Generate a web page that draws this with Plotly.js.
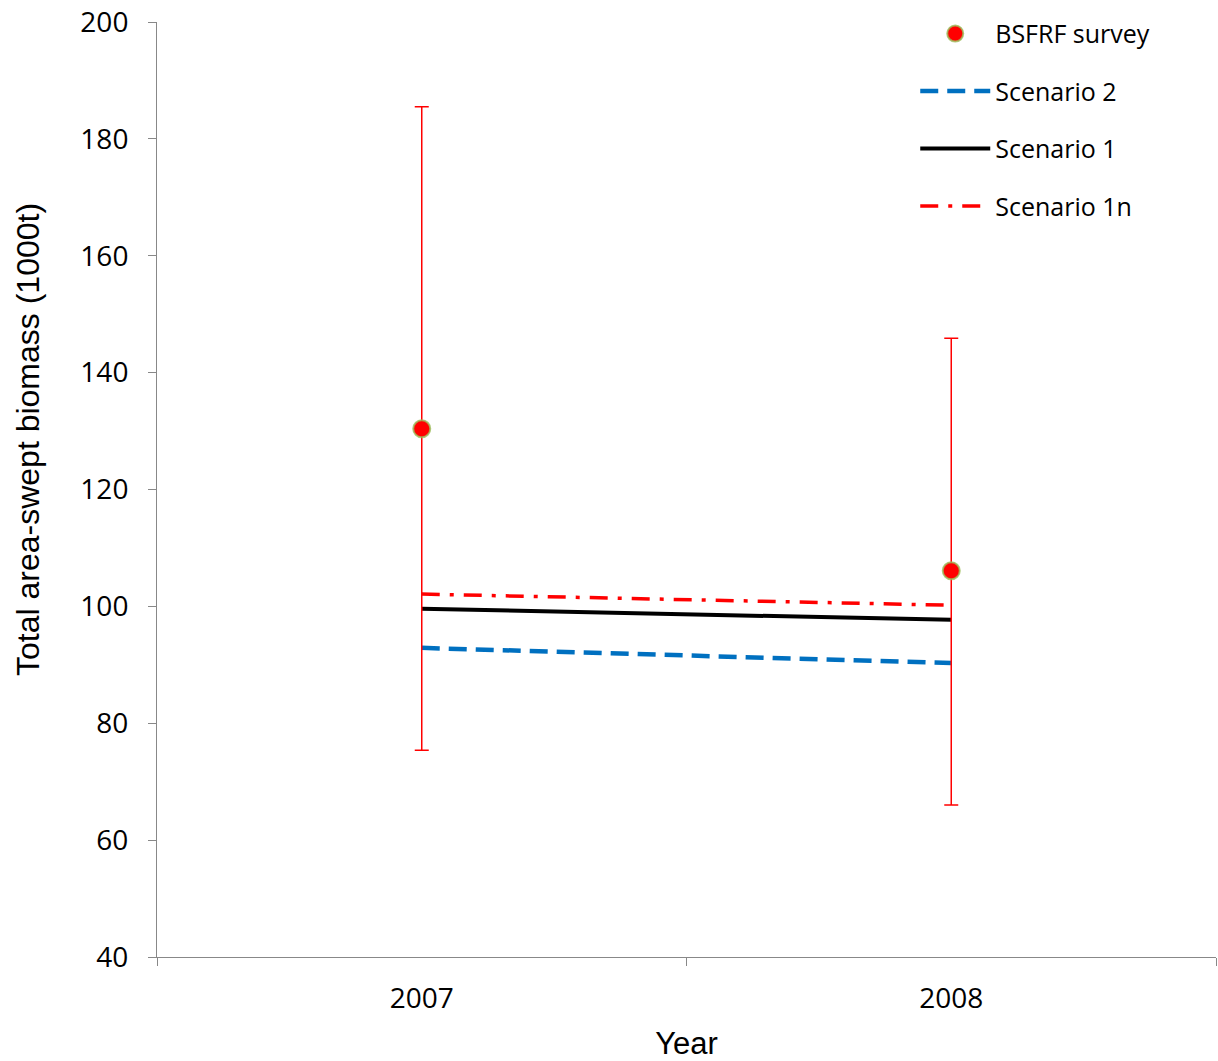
<!DOCTYPE html>
<html>
<head>
<meta charset="utf-8">
<script src="https://cdn.plot.ly/plotly-3.0.1.min.js"></script>
<style>html,body{margin:0;padding:0;background:#fff;}#chart{width:1218px;height:1061px;}</style>
</head>
<body>
<div id="chart"></div>
<script>
const years = ["2007", "2008"];
const surveyBiomass = [130.4, 106.1];
const surveyUpper = [185.5, 145.9];
const surveyLower = [75.4, 66.0];
const scenario2 = [92.9, 90.3];
const scenario1 = [99.6, 97.7];
const scenario1n = [102.1, 100.2];

const errPlus = surveyBiomass.map((v, i) => surveyUpper[i] - v);
const errMinus = surveyBiomass.map((v, i) => v - surveyLower[i]);

const traces = [
  {
    x: years, y: scenario2, name: "Scenario 2", type: "scatter", mode: "lines",
    line: {color: "#0070C0", width: 4.5, dash: "18px,9px"},
    legendrank: 2, legendgroup: "b"
  },
  {
    x: years, y: scenario1, name: "Scenario 1", type: "scatter", mode: "lines",
    line: {color: "#000000", width: 4},
    legendrank: 3, legendgroup: "c"
  },
  {
    x: years, y: scenario1n, name: "Scenario 1n", type: "scatter", mode: "lines",
    line: {color: "#FF0000", width: 3.5, dash: "18px,10px,4px,10px"},
    legendrank: 4, legendgroup: "d"
  },
  {
    x: years, y: surveyBiomass, name: "BSFRF survey", type: "scatter", mode: "markers",
    marker: {color: "#FF0000", size: 17, line: {color: "rgba(155,187,89,0.8)", width: 2}},
    error_y: {type: "data", symmetric: false, array: errPlus, arrayminus: errMinus,
      color: "#FF0000", thickness: 1.5, width: 7},
    legendrank: 1, legendgroup: "a"
  }
];

const layout = {
  width: 1218, height: 1061,
  margin: {l: 157, r: 2, t: 22, b: 104},
  paper_bgcolor: "#fff", plot_bgcolor: "#fff",
  showlegend: true,
  legend: {
    x: 0.716, y: 1.012, xanchor: "left", yanchor: "top",
    font: {family: "'Open Sans', sans-serif", size: 25, color: "#000"},
    itemwidth: 70, tracegroupgap: 22, traceorder: "grouped",
    bgcolor: "rgba(0,0,0,0)"
  },
  xaxis: {
    type: "category", range: [-0.5, 1.5],
    tickson: "boundaries", ticks: "outside", ticklen: 8, tickcolor: "#888",
    showline: true, linecolor: "#888", linewidth: 1,
    showgrid: false, zeroline: false, ticklabelstandoff: 16,
    tickfont: {family: "'Open Sans', sans-serif", size: 28, color: "#000"},
    title: {text: "Year", font: {family: "'Liberation Sans', Arial, sans-serif", size: 31, color: "#000"}, standoff: 17}
  },
  yaxis: {
    range: [40, 200], dtick: 20, tick0: 40,
    ticks: "outside", ticklen: 8, tickcolor: "#888",
    showline: true, linecolor: "#888", linewidth: 1,
    showgrid: false, zeroline: false, ticklabelstandoff: 14,
    tickfont: {family: "'Open Sans', sans-serif", size: 28, color: "#000"}
  },
  annotations: [{
    text: "Total area-swept biomass (1000t)",
    xref: "paper", yref: "paper",
    x: -129 / 1059, y: (957 - 440) / 935,
    xanchor: "center", yanchor: "middle",
    textangle: -90, showarrow: false,
    font: {family: "'Liberation Sans', Arial, sans-serif", size: 32, color: "#000"}
  }]
};

Plotly.newPlot("chart", traces, layout, {displayModeBar: false, staticPlot: true});
</script>
</body>
</html>
